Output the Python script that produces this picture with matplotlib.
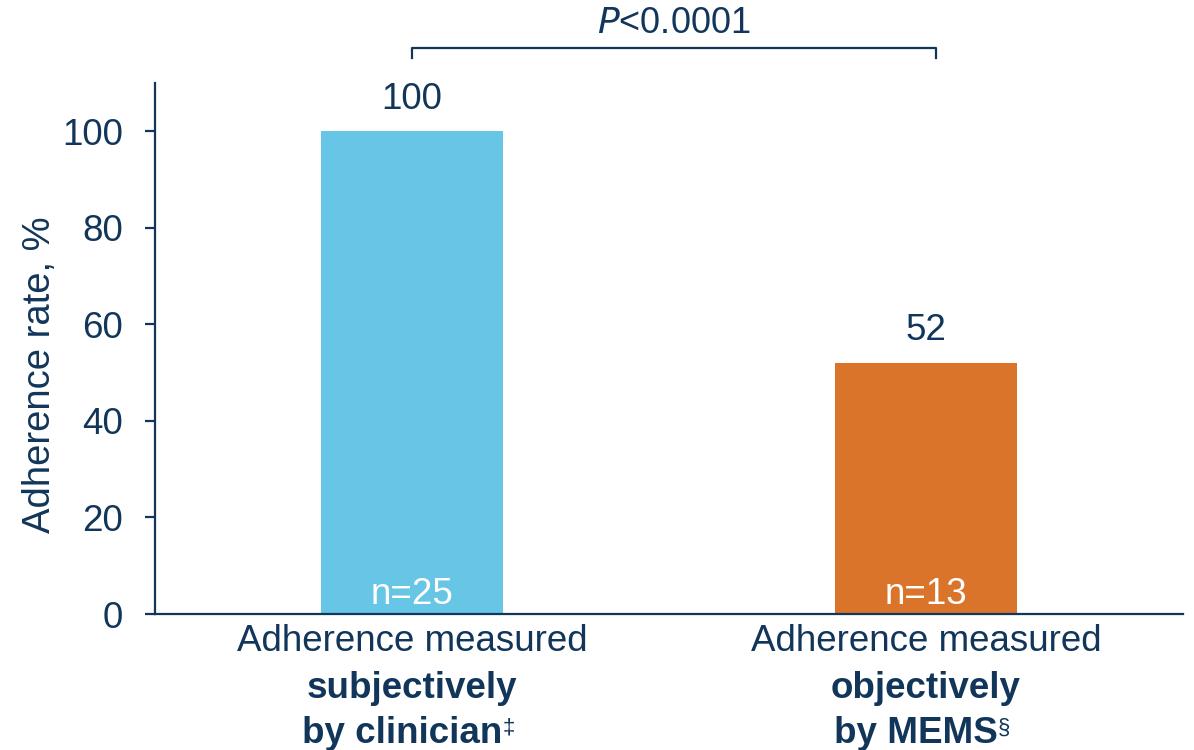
import matplotlib
matplotlib.use("Agg")
import matplotlib.pyplot as plt
import matplotlib.transforms as mtransforms

plt.rcParams["font.family"] = ["Liberation Sans", "DejaVu Sans"]

NAVY = "#12365A"

methods = ["subjectively\nby clinician", "objectively\nby MEMS"]
footnotes = ["\u2021", "\u00a7"]
adherence = [100, 52]
n_patients = [25, 13]
bar_colors = ["#67C5E5", "#DA742A"]
p_text = "$\\mathit{P}$<0.0001"

fig = plt.figure(figsize=(11.94, 7.5), dpi=100)
ax = fig.add_axes([0.1298, 0.1813, 0.861, 0.708])

xs = list(range(len(adherence)))
bars = ax.bar(xs, adherence, width=0.353, color=bar_colors, zorder=2)

ax.set_xlim(-0.5, 1.5)
ax.set_ylim(0, 110)
ax.set_yticks([0, 20, 40, 60, 80, 100])
ax.set_xticks([])
ax.set_ylabel("Adherence rate, %", fontsize=27.5, color=NAVY)
ax.yaxis.set_label_coords(-0.094, 0.45)

for side in ("top", "right"):
    ax.spines[side].set_visible(False)
for side in ("left", "bottom"):
    ax.spines[side].set_color(NAVY)
    ax.spines[side].set_linewidth(1.6)
ax.tick_params(axis="y", colors=NAVY, labelsize=26.5, length=7, width=1.6, pad=16)

# value on top and sample size at the foot of each bar
for x, val, n, bar in zip(xs, adherence, n_patients, bars):
    ax.annotate(f"{val}", xy=(x, val), xytext=(0, 10.5), textcoords="offset points",
                ha="center", va="bottom", fontsize=26.5, color=NAVY)
    ax.annotate(f"n={n}", xy=(x, 0), xytext=(0, 14), textcoords="offset points",
                ha="center", va="center", fontsize=26.5, color="white")

# category labels: plain first line, bold method, small footnote mark
trans = mtransforms.blended_transform_factory(ax.transData, ax.transAxes)
for x, method, mark in zip(xs, methods, footnotes):
    ax.annotate("Adherence measured", xy=(x, 0), xycoords=trans,
                xytext=(0, -19.5), textcoords="offset points",
                ha="center", va="center", fontsize=26.5, color=NAVY)
    first, second = method.split("\n")
    ax.annotate(first, xy=(x, 0), xycoords=trans,
                xytext=(0, -53.5), textcoords="offset points",
                ha="center", va="center", fontsize=26.5, fontweight="bold", color=NAVY)
    t = ax.annotate(second, xy=(x, 0), xycoords=trans,
                    xytext=(-7, -86), textcoords="offset points",
                    ha="center", va="center", fontsize=26.5, fontweight="bold", color=NAVY)
    ax.annotate(mark, xy=(1, 0.66), xycoords=t, xytext=(0, 0), textcoords="offset points",
                ha="left", va="center", fontsize=16, color=NAVY)

# significance bracket between the two bars
br_top, br_low = 117.2, 115.2
ax.plot([xs[0], xs[0], xs[1] + 0.02, xs[1] + 0.02], [br_low, br_top, br_top, br_low],
        color=NAVY, lw=1.6, clip_on=False)
ax.text((xs[0] + xs[1] + 0.02) / 2, br_top + 1.6, p_text, ha="center", va="bottom",
        fontsize=26, color=NAVY)

fig.savefig("out.png", dpi=100)
